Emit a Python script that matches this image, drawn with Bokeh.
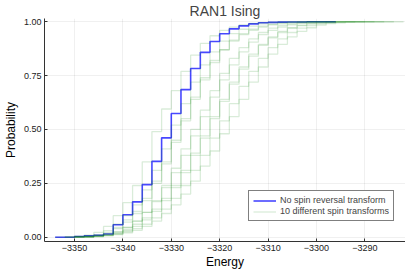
from bokeh.plotting import figure
from bokeh.models import Legend, LegendItem, FixedTicker, Range1d
from bokeh.embed import file_html
from bokeh.resources import INLINE

# ---- data ----
energy_step = 2

blue_start = -3354
blue_p = [0.000, 0.000, 0.003, 0.006, 0.009, 0.015, 0.058, 0.104, 0.164, 0.244,
          0.352, 0.461, 0.574, 0.685, 0.783, 0.858, 0.908, 0.944, 0.967, 0.981,
          0.990, 0.995, 0.997, 0.998, 0.999, 0.999, 1.000, 1.000, 1.000, 1.000]

green_starts = [-3354, -3352, -3352, -3350, -3352, -3350, -3350, -3348, -3350, -3350]
green_p = [
    [0, 0.002, 0.005, 0.010, 0.022, 0.05, 0.10, 0.16, 0.24, 0.35, 0.49, 0.595, 0.68, 0.77,
     0.845, 0.90, 0.935, 0.96, 0.975, 0.985, 0.992, 0.996, 0.998, 0.999, 1.0, 1.0, 1.0, 1.0],
    [0, 0.003, 0.007, 0.012, 0.03, 0.06, 0.10, 0.15, 0.22, 0.31, 0.41, 0.52, 0.62, 0.72,
     0.80, 0.86, 0.91, 0.945, 0.965, 0.98, 0.99, 0.995, 0.998, 0.999, 1.0, 1.0, 1.0, 1.0],
    [0, 0.002, 0.004, 0.008, 0.02, 0.045, 0.08, 0.12, 0.18, 0.26, 0.35, 0.45, 0.55, 0.65,
     0.74, 0.82, 0.87, 0.91, 0.94, 0.96, 0.975, 0.985, 0.99, 0.995, 0.997, 0.999, 1.0, 1.0, 1.0],
    [0, 0.003, 0.008, 0.018, 0.04, 0.07, 0.11, 0.17, 0.25, 0.34, 0.44, 0.54, 0.64, 0.73,
     0.81, 0.87, 0.915, 0.945, 0.965, 0.98, 0.988, 0.994, 0.997, 0.999, 1.0, 1.0, 1.0, 1.0, 1.0],
    [0, 0.001, 0.003, 0.006, 0.012, 0.025, 0.045, 0.075, 0.115, 0.17, 0.24, 0.32, 0.41, 0.50,
     0.59, 0.68, 0.76, 0.83, 0.88, 0.92, 0.95, 0.97, 0.982, 0.99, 0.995, 0.997, 0.999, 1.0,
     1.0, 1.0, 1.0],
    [0, 0.002, 0.005, 0.012, 0.025, 0.045, 0.075, 0.115, 0.165, 0.23, 0.30, 0.38, 0.47, 0.56,
     0.65, 0.73, 0.80, 0.86, 0.905, 0.94, 0.96, 0.975, 0.985, 0.992, 0.996, 0.998, 0.999, 1.0,
     1.0, 1.0, 1.0],
    [0, 0.001, 0.003, 0.008, 0.016, 0.03, 0.05, 0.08, 0.12, 0.17, 0.23, 0.30, 0.38, 0.46,
     0.55, 0.63, 0.71, 0.78, 0.84, 0.89, 0.925, 0.95, 0.97, 0.982, 0.99, 0.995, 0.997, 0.999,
     1.0, 1.0, 1.0, 1.0, 1.0],
    [0, 0.004, 0.01, 0.02, 0.035, 0.06, 0.09, 0.13, 0.18, 0.24, 0.31, 0.39, 0.47, 0.56,
     0.64, 0.72, 0.79, 0.85, 0.895, 0.93, 0.955, 0.972, 0.984, 0.991, 0.995, 0.998, 0.999,
     1.0, 1.0, 1.0, 1.0],
    [0, 0.002, 0.004, 0.008, 0.015, 0.025, 0.04, 0.06, 0.09, 0.13, 0.18, 0.24, 0.31, 0.38,
     0.46, 0.54, 0.62, 0.70, 0.77, 0.83, 0.88, 0.92, 0.95, 0.97, 0.982, 0.99, 0.995, 0.998,
     0.999, 1.0, 1.0, 1.0, 1.0, 1.0],
    [0, 0.001, 0.003, 0.006, 0.012, 0.02, 0.032, 0.05, 0.075, 0.11, 0.15, 0.20, 0.26, 0.33,
     0.40, 0.48, 0.56, 0.64, 0.72, 0.79, 0.85, 0.895, 0.93, 0.955, 0.972, 0.984, 0.991, 0.995,
     0.998, 0.999, 1.0, 1.0, 1.0, 1.0, 1.0],
]

x_ticks = [-3350, -3340, -3330, -3320, -3310, -3300, -3290]
x_tick_labels = ["\u22123350", "\u22123340", "\u22123330", "\u22123320",
                 "\u22123310", "\u22123300", "\u22123290"]
y_ticks = [0.0, 0.25, 0.5, 0.75, 1.0]
y_tick_labels = ["0.00", "0.25", "0.50", "0.75", "1.00"]

title_text = "RAN1 Ising"
x_label = "Energy"
y_label = "Probability"
blue_label = "No spin reversal transform"
green_label = "10 different spin transforms"

FONT = "Liberation Sans"

p = figure(frame_width=361, frame_height=223, output_backend="svg", toolbar_location=None,
           x_range=Range1d(-3356.2, -3281.6), y_range=Range1d(-0.02, 1.015),
           title=title_text, min_border_left=30, min_border_right=0,
           min_border_top=0, min_border_bottom=0)
p.outline_line_color = None
p.background_fill_color = "white"
p.border_fill_color = "white"

p.title.text_font = FONT
p.title.text_font_size = "14px"
p.title.text_font_style = "normal"
p.title.align = "center"
p.title.standoff = 0
p.title.offset = 0

def xs_for(start, n):
    return [start + energy_step * i for i in range(n)]

r_blue = p.step(xs_for(blue_start, len(blue_p)), blue_p, mode="after",
                line_color="blue", line_alpha=0.72, line_width=1.6)

green_renderers = []
for s, vals in zip(green_starts, green_p):
    r = p.step(xs_for(s, len(vals)), vals, mode="after",
               line_color="green", line_alpha=0.15, line_width=1.3)
    green_renderers.append(r)

for ax in (p.xaxis[0], p.yaxis[0]):
    ax.axis_line_color = "#333333"
    ax.axis_line_width = 1
    ax.major_tick_in = 3
    ax.major_tick_out = 0
    ax.minor_tick_in = 0
    ax.minor_tick_out = 0
    ax.major_tick_line_color = "#333333"
    ax.major_label_text_font = FONT
    ax.major_label_text_font_size = "9px"
    ax.major_label_text_color = "#222222"
    ax.axis_label_text_font = FONT
    ax.axis_label_text_font_size = "12px"
    ax.axis_label_text_font_style = "normal"
    ax.axis_label_text_color = "black"

p.xaxis.ticker = FixedTicker(ticks=x_ticks)
p.xaxis.major_label_overrides = dict(zip(x_ticks, x_tick_labels))
p.yaxis.ticker = FixedTicker(ticks=y_ticks)
p.yaxis.major_label_overrides = dict(zip(y_ticks, y_tick_labels))
p.xaxis.axis_label = x_label
p.yaxis.axis_label = y_label
p.xaxis.major_label_standoff = 3
p.yaxis.major_label_standoff = 3
p.xaxis.axis_label_standoff = 1
p.yaxis.axis_label_standoff = 3

p.xgrid.ticker = FixedTicker(ticks=x_ticks)
p.ygrid.ticker = FixedTicker(ticks=y_ticks)
for g in (p.xgrid[0], p.ygrid[0]):
    g.grid_line_color = "black"
    g.grid_line_alpha = 0.1
    g.grid_line_width = 0.6

legend = Legend(items=[LegendItem(label=blue_label, renderers=[r_blue]),
                       LegendItem(label=green_label, renderers=[green_renderers[0]])],
                location=(204, 20))
legend.label_text_font = FONT
legend.label_text_font_size = "9px"
legend.label_height = 9
legend.glyph_height = 9
legend.glyph_width = 23
legend.label_standoff = 4
legend.spacing = 1
legend.padding = 4
legend.margin = 0
legend.border_line_color = "black"
legend.border_line_width = 1
legend.background_fill_alpha = 1
p.add_layout(legend, "center")

open("out.html", "w").write(file_html(p, INLINE))
